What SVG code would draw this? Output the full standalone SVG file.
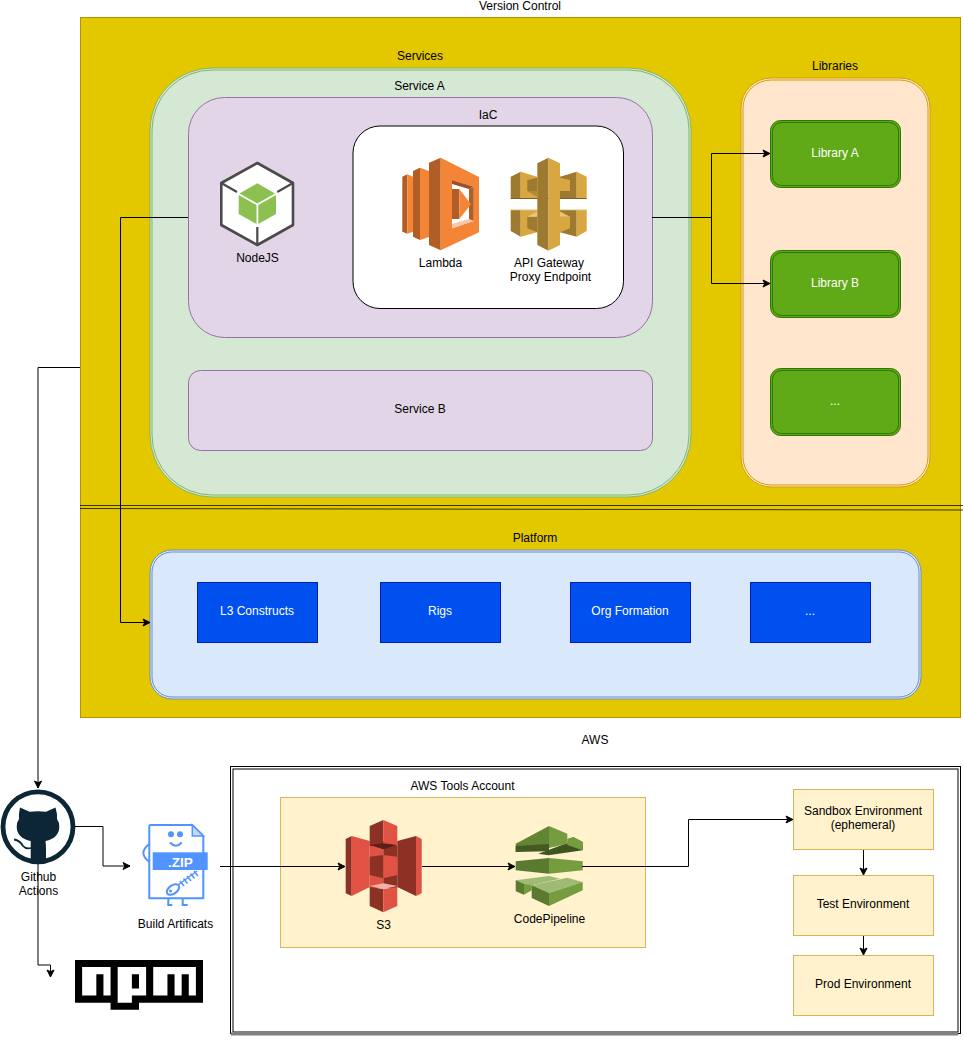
<svg xmlns="http://www.w3.org/2000/svg" width="964" height="1049" viewBox="0 0 964 1049">
<style>
text{font-family:"Liberation Sans",Arial,sans-serif;font-size:12px;fill:#000;text-anchor:middle}
.w{fill:#fff}
.c{fill:none;stroke:#000;stroke-width:1}
.a{marker-end:url(#arr)}
.env{fill:#fff2cc;stroke:#d6b656}
.pl{fill:#0050ef;stroke:#001dbc}
.lib{fill:#60a917;stroke:#2d7600}
.libi{fill:none;stroke:#2d7600}
.pur{fill:#e1d5e7;stroke:#9673a6}
.gd{fill:#9d7a2f}
.gl{fill:#d9a741}
.rd{fill:#8c3123}
.rl{fill:#e05243}
.zs{fill:none;stroke:#5294ff;stroke-width:2}
</style>
<defs>
<marker id="arr" markerUnits="userSpaceOnUse" markerWidth="10" markerHeight="10" refX="8" refY="4.5" orient="auto" overflow="visible">
<path d="M1 1 L8 4.5 L1 8 L2.75 4.5 Z" fill="#000" stroke="#000" stroke-width="1"/>
</marker>
</defs>
<g id="version-control">
<rect x="80.5" y="17.5" width="880" height="700" fill="#e3c800" stroke="#b09500"/>
<text x="520" y="10">Version Control</text>
</g>
<g id="services-title"><text x="420" y="60">Services</text></g>
<g id="service-a">
<rect x="150" y="68" width="541" height="429" rx="62" fill="#d5e8d4" stroke="#82b366"/>
<rect x="152" y="70" width="537" height="425" rx="60" fill="none" stroke="#82b366"/>
<text x="419.500" y="90">Service A</text>
<rect class="pur" x="188.500" y="97.500" width="464" height="240" rx="36"/>
</g>
<g id="iac">
<rect x="353" y="126" width="270.500" height="182.500" rx="27" fill="#fff" stroke="#000"/>
<text x="488" y="119">IaC</text>
</g>
<g id="nodejs">
<path d="M257.300 163 L293 183 V225 L257.300 245 L221.300 225 V183 Z" fill="#fff" stroke="#4a4a4a" stroke-width="2.600" stroke-linejoin="round"/>
<path d="M221.300 183 L237 192 M293 183 L277.300 192 M257.300 245 V227" fill="none" stroke="#4a4a4a" stroke-width="2.200"/>
<path d="M257.300 183.300 L275 193.500 L257.300 203.500 L239.500 193.500 Z M238.700 195 L256.500 205 V224 L238.700 214 Z M276 195 L258.300 205 V224 L276 214 Z" fill="#8cc152"/>
<text x="257.500" y="262">NodeJS</text>
</g>
<g id="lambda">
<path d="M402.300 176.700 L407.300 174.300 V233.700 L402.300 231.700 Z M413 171 L420 167.700 V240 L413 236.700 Z M429 162.700 L440.700 157.700 V250.300 L429 245 Z" fill="#b05e26"/>
<path d="M407.300 174.300 L413 176.700 V231.700 L407.300 233.700 Z M420 167.700 L429 171 V237 L420 240 Z" fill="#f58536"/>
<path d="M440.700 157.700 L479 177 V232.300 L440.700 250.300 Z" fill="#f58536"/>
<path d="M452 180 L473.700 186.700 V221 L452 228.300 Z" fill="#fff"/>
<path d="M452 180 L473.700 186.700 L469 189 L452 184 Z" fill="#9d5025"/>
<path d="M452 228.300 L473.700 221 L469 219 L452 224 Z" fill="#f8c9a4"/>
<path d="M469 189 L473.700 186.700 V221 L469 219 Z" fill="#b05e26"/>
<path d="M452 189 H459.300 V219 H452 Z" fill="#b05e26"/>
<path d="M459.300 189 L471 204.300 L459.300 219 Z" fill="#f58536"/>
<text x="440.500" y="267">Lambda</text>
</g>
<g id="api-gateway">
<path class="gd" d="M510.700 176.700 L520.700 171.700 V198.300 H510.700 Z"/>
<path class="gl" d="M520.700 171.700 L537.300 176.700 V198.300 H520.700 Z"/>
<path class="gd" d="M527.300 180 L537.300 177.700 V191 H527.300 Z"/>
<path d="M527.300 191 H537.300 V197 Z" fill="#b08a35"/>
<path class="gd" d="M560 176.700 L576.700 171.700 V198.300 H560 Z"/>
<path class="gl" d="M576.700 171.700 L586.700 176.700 V198.300 H576.700 Z"/>
<path class="gl" d="M560 177.700 L570 180 V191 H560 Z"/>
<path class="gd" d="M510.700 210 H520.700 V236.700 L510.700 231 Z"/>
<path class="gl" d="M520.700 210 H537.300 V232.300 L520.700 236.700 Z"/>
<path class="gd" d="M527.300 216.700 H537.300 V232.300 L527.300 228.300 Z"/>
<path d="M527.300 216.700 L537.300 211.500 V216.700 Z" fill="#e8c678"/>
<path class="gd" d="M560 210 H576.700 V236.700 L560 232.300 Z"/>
<path class="gl" d="M576.700 210 H586.700 V231 L576.700 236.700 Z"/>
<path class="gl" d="M560 216.700 H570 V228.300 L560 232.300 Z"/>
<path d="M560 211.500 L570 216.700 H560 Z" fill="#e8c678"/>
<path d="M510.700 198 H586.700 V199 H510.700 Z" fill="#7d6025"/>
<path d="M510.700 209.200 H586.700 V210.200 H510.700 Z" fill="#efd9a2"/>
<path class="gd" d="M537.300 163.300 L548.500 157.700 V250.700 L537.300 245 Z"/>
<path class="gl" d="M548.500 157.700 L560 163.300 V245 L548.500 250.700 Z"/>
<text x="549" y="267">API Gateway</text>
<text x="550.500" y="281">Proxy Endpoint</text>
</g>
<g id="service-b">
<rect class="pur" x="188.500" y="370.500" width="464" height="80" rx="12"/>
<text x="420" y="413">Service B</text>
</g>
<g id="libraries">
<rect x="741" y="78" width="189" height="409" rx="30" fill="#ffe6cc" stroke="#d79b00"/>
<rect x="743" y="80" width="185" height="405" rx="28" fill="none" stroke="#d79b00"/>
<text x="835" y="70">Libraries</text>
</g>
<g id="library-a">
<rect class="lib" x="770.500" y="120.500" width="130" height="67" rx="10"/>
<rect class="libi" x="772.500" y="122.500" width="126" height="63" rx="9"/>
<text class="w" x="835" y="157">Library A</text>
</g>
<g id="library-b">
<rect class="lib" x="770.500" y="250.500" width="130" height="67" rx="10"/>
<rect class="libi" x="772.500" y="252.500" width="126" height="63" rx="9"/>
<text class="w" x="835" y="287">Library B</text>
</g>
<g id="library-more">
<rect class="lib" x="770.500" y="368.500" width="130" height="67" rx="10"/>
<rect class="libi" x="772.500" y="370.500" width="126" height="63" rx="9"/>
<text class="w" x="835" y="405">...</text>
</g>
<g id="divider">
<path d="M80 505.500 H963" fill="none" stroke="#000" stroke-opacity=".75"/>
<path d="M80 508.500 L963 510" fill="none" stroke="#000" stroke-opacity=".75"/>
</g>
<g id="platform">
<rect x="150" y="550" width="771" height="149" rx="22" fill="#dae8fc" stroke="#6c8ebf"/>
<rect x="152" y="552" width="767" height="145" rx="20" fill="none" stroke="#6c8ebf"/>
<text x="535" y="542">Platform</text>
</g>
<g id="l3-constructs"><rect class="pl" x="197.500" y="582.500" width="120" height="60"/><text class="w" x="257" y="615">L3 Constructs</text></g>
<g id="rigs"><rect class="pl" x="380.500" y="582.500" width="120" height="60"/><text class="w" x="440" y="615">Rigs</text></g>
<g id="org-formation"><rect class="pl" x="570.500" y="582.500" width="120" height="60"/><text class="w" x="630" y="615">Org Formation</text></g>
<g id="platform-more"><rect class="pl" x="750.500" y="582.500" width="120" height="60"/><text class="w" x="810" y="615">...</text></g>
<g id="aws">
<text x="595" y="744">AWS</text>
<rect x="230.500" y="766.500" width="730" height="267" fill="#fff" stroke="#000"/>
<rect x="233" y="769" width="725" height="263" fill="none" stroke="#000"/>
<path d="M231 1034 H958" stroke="#808080" stroke-width="3" fill="none"/>
</g>
<g id="aws-tools">
<rect class="env" x="280.500" y="797.500" width="365" height="150"/>
<text x="462.500" y="790">AWS Tools Account</text>
</g>
<g id="s3">
<path class="rl" d="M369.700 841 H383.300 V888 H369.700 Z"/>
<path class="rd" d="M383.300 841 H397.300 V888 H383.300 Z"/>
<path class="rd" d="M345.700 839 L351.700 836 V896 L345.700 893.300 Z"/>
<path class="rl" d="M351.700 836 L369.700 841 V887 L351.700 896 Z"/>
<path class="rl" d="M421.700 839 L416 836 V896 L421.700 893.300 Z"/>
<path class="rd" d="M416 836 L397.300 841 V887 L416 896 Z"/>
<path class="rd" d="M369.700 826 L383.300 820 V846 H369.700 Z"/>
<path class="rl" d="M383.300 820 L397.300 826 V846 H383.300 Z"/>
<path d="M369.700 845 L383.300 843.300 L397.300 845 L383.300 849.300 Z" fill="#5e1f18"/>
<path class="rd" d="M369.700 856.700 L383.300 855 V878.300 L369.700 875 Z"/>
<path class="rl" d="M383.300 855 L397.300 856.700 V875 L383.300 878.300 Z"/>
<path class="rd" d="M369.700 887 L383.300 889 V912.300 L369.700 906 Z"/>
<path class="rl" d="M397.300 887 L383.300 889 V912.300 L397.300 906 Z"/>
<path d="M369.700 886 L383.300 883.300 L397.300 886 L383.300 889 Z" fill="#f2b0a9"/>
<text x="383.500" y="929">S3</text>
</g>
<g id="codepipeline">
<path d="M538.300 853.700 L567.300 843 L573.300 837 L582.700 842 V850.300 L548.300 855.300 Z" fill="#3f5520"/>
<path d="M567.300 838.700 L573.300 837 L582.700 842 V850.300 L567.300 845 Z" fill="#759c3e"/>
<path d="M515.700 843.700 L549 826 V846 L515.700 852 Z" fill="#628435"/>
<path d="M515.700 846 L549 844 V851.300 L515.700 852 Z" fill="#445a22"/>
<path d="M549 826 L567.300 833.700 V843.700 L549 848 Z" fill="#759c3e"/>
<path d="M515.700 861.300 L549 858 V873.700 L515.700 870.300 Z" fill="#5a7a30"/>
<path d="M549 858 L582.700 861.300 V870.300 L549 873.700 Z" fill="#759c3e"/>
<path d="M515.700 880.300 L549 876 L560 878.700 L531.700 885.300 L524 886.500 Z" fill="#9dbb73"/>
<path d="M515.700 880.300 L524 884 V894.700 L515.700 891.300 Z" fill="#5a7a30"/>
<path d="M524 884 L531.700 885.300 V890.300 L524 894.700 Z" fill="#759c3e"/>
<path d="M531.700 885.300 L567.300 877.700 L582.700 882 L549 893 Z" fill="#9dbb73"/>
<path d="M531.700 885.300 L549 893 V906 L531.700 898 Z" fill="#5a7a30"/>
<path d="M549 893 L582.700 882 V890.300 L549 906 Z" fill="#759c3e"/>
<text x="549.500" y="923">CodePipeline</text>
</g>
<g id="sandbox">
<rect class="env" x="793.500" y="789.500" width="140" height="60"/>
<text x="863" y="815">Sandbox Environment</text>
<text x="863" y="829">(ephemeral)</text>
</g>
<g id="test-env">
<rect class="env" x="793.500" y="875.500" width="140" height="60"/>
<text x="863" y="908">Test Environment</text>
</g>
<g id="prod-env">
<rect class="env" x="793.500" y="955.500" width="140" height="60"/>
<text x="863" y="988">Prod Environment</text>
</g>
<g id="github-actions">
<circle cx="38" cy="826.800" r="35" fill="#fff" stroke="#0d2636" stroke-width="4.800"/>
<path d="M20 807.500 L29.500 811.800 Q38 810.500 46 811.800 L55.500 807.500 Q57.500 814 57 819 Q59.800 823 59.300 827 Q59 838 45.500 841 Q46 845 46 849 V862 Q38 864 30.700 862 V841 Q17 838 16.700 827 Q16.300 823 19 819 Q18.500 814 20 807.500 Z" fill="#0d2636"/>
<path d="M14 839.500 Q20 840.500 23 846 Q26 849.500 31 848" fill="none" stroke="#0d2636" stroke-width="1.800"/>
<text x="38.500" y="881">Github</text>
<text x="38.500" y="895">Actions</text>
</g>
<g id="build-artifacts">
<path class="zs" d="M149.300 826 Q149.300 825 150.500 825 H192.300 L203.300 836 V898.300 H149.300 Z" fill="#fff" style="fill:#fff"/>
<path d="M192.300 825 V836 H203.300 Z" fill="#c5d9f7" stroke="#5294ff" stroke-width="1.500"/>
<circle cx="171" cy="834.300" r="3" fill="#5294ff"/>
<circle cx="180" cy="834.300" r="3" fill="#5294ff"/>
<path class="zs" d="M170 842.500 Q175.800 849 181.700 842.500"/>
<path class="zs" d="M149.300 844 Q137.500 853 149.300 861.700"/>
<path class="zs" d="M168.300 899 V905 H172.300 M182.700 899 V905 H187.700"/>
<rect x="152.700" y="852.300" width="55" height="17.700" fill="#5294ff"/>
<text class="w" x="180.300" y="866.500" style="font-size:13.500px;font-weight:bold">.ZIP</text>
<ellipse cx="173" cy="889.500" rx="7" ry="4.200" transform="rotate(-36 173 889.500)" fill="#fff" stroke="#5294ff" stroke-width="2"/>
<circle cx="170.500" cy="891" r="1.500" fill="#5294ff"/>
<path d="M178 885 L197 871" fill="none" stroke="#5294ff" stroke-width="1.500"/>
<path d="M180 881 L184 886 M183.500 878.500 L187.500 883.500 M187 876 L191 881 M190.500 873.500 L194.500 878.500 M194 871 L198 876" fill="none" stroke="#5294ff" stroke-width="1.500"/>
<text x="175.500" y="928">Build Artificats</text>
</g>
<g id="npm">
<path transform="translate(75 960) scale(7.111)" fill-rule="evenodd" d="M0 0H18V6H9V7H5V6H0Z M1 5H3V2H4V5H5V1H1Z M6 1V6H8V5H10V1Z M8 2H9V4H8Z M11 1V5H13V2H14V5H15V2H16V5H17V1Z" fill="#000"/>
</g>
<g id="connectors">
<path class="c a" d="M188 217.500 H120.500 V622.500 H150"/>
<path class="c a" d="M652 217.500 H711.500 V153.500 H770"/>
<path class="c a" d="M711.500 217.500 V283.500 H770"/>
<path class="c a" d="M80 367.500 H38 V788"/>
<path class="c a" d="M75 826.500 H103 V866 H130"/>
<path class="c a" d="M38 864 V965 H50.500 V977"/>
<path class="c a" d="M220 866.500 H345"/>
<path class="c a" d="M422 866.500 H515"/>
<path class="c a" d="M582 866.500 H688.500 V819.500 H793"/>
<path class="c a" d="M863.500 850 V875"/>
<path class="c a" d="M863.500 936 V955"/>
</g>
</svg>
